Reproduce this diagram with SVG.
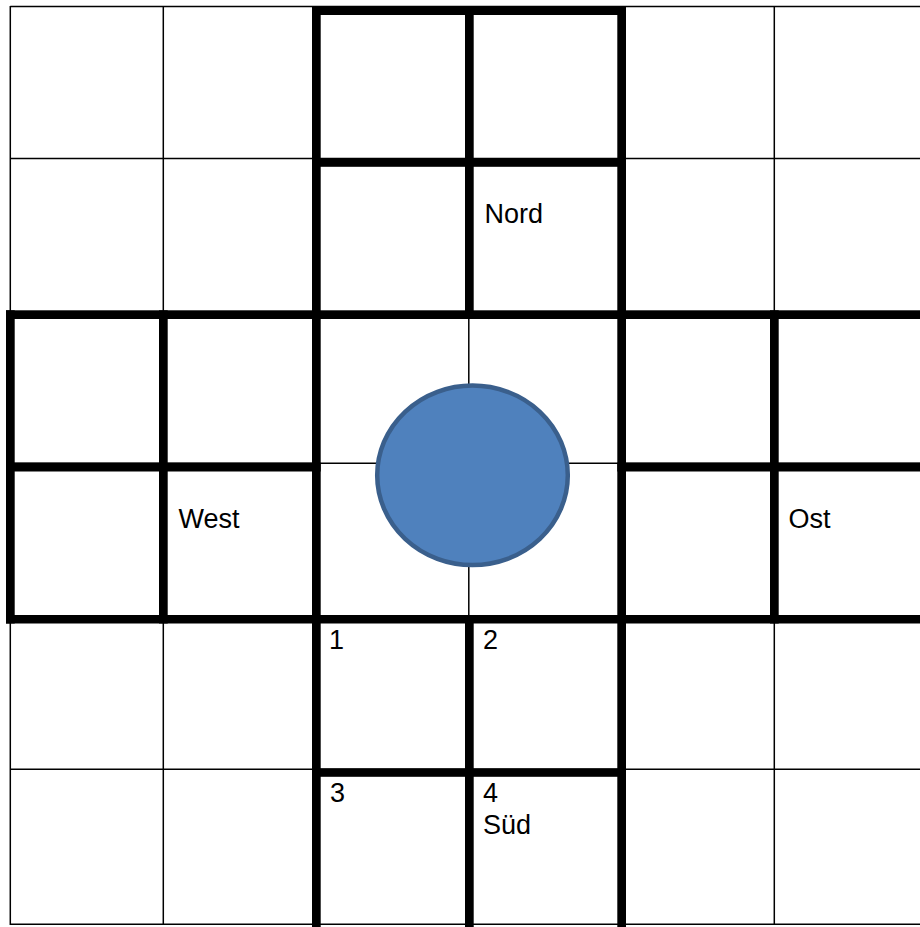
<svg xmlns="http://www.w3.org/2000/svg" width="920" height="927" viewBox="0 0 920 927">
  <style>
    .thin { stroke: #000; stroke-width: 1.5; fill: none; }
    .thick { fill: #000; }
    .lbl { font-family: "Liberation Sans", Arial, sans-serif; font-size: 27px; fill: #000; }
    .disc { fill: #4f81bd; stroke: #3a5f8c; stroke-width: 4.5; }
  </style>
  <rect x="0" y="0" width="920" height="927" fill="#fff"/>
  <g id="connectors">
    <g id="thin-grid">
      <line class="thin" x1="10.3" y1="6.5" x2="920" y2="6.5"/>
      <line class="thin" x1="10.3" y1="158.6" x2="920" y2="158.6"/>
      <line class="thin" x1="10.3" y1="463.3" x2="920" y2="463.3"/>
      <line class="thin" x1="10.3" y1="769.3" x2="920" y2="769.3"/>
      <line class="thin" x1="10.3" y1="924.3" x2="920" y2="924.3"/>
      <line class="thin" x1="10.3" y1="6" x2="10.3" y2="925"/>
      <line class="thin" x1="163.3" y1="6" x2="163.3" y2="925"/>
      <line class="thin" x1="468.8" y1="6" x2="468.8" y2="925"/>
      <line class="thin" x1="774.3" y1="6" x2="774.3" y2="925"/>
    </g>
    <g id="thick-borders">
      <rect class="thick" x="312" y="6.3" width="314" height="8.7"/>
      <rect class="thick" x="312" y="158.3" width="314" height="8.5"/>
      <rect class="thick" x="6" y="310.3" width="914" height="8.7"/>
      <rect class="thick" x="6" y="462.7" width="314.7" height="8.8"/>
      <rect class="thick" x="617.3" y="462.7" width="302.7" height="8.8"/>
      <rect class="thick" x="6" y="615" width="914" height="8.5"/>
      <rect class="thick" x="312" y="768.3" width="314" height="8.5"/>
      <rect class="thick" x="6" y="310.3" width="8.7" height="313.2"/>
      <rect class="thick" x="159" y="310.3" width="8.7" height="313.2"/>
      <rect class="thick" x="770" y="310.3" width="8.7" height="313.2"/>
      <rect class="thick" x="312" y="6.3" width="8.7" height="920.7"/>
      <rect class="thick" x="465" y="6.3" width="8.7" height="312.7"/>
      <rect class="thick" x="465" y="615" width="8.7" height="312"/>
      <rect class="thick" x="617.3" y="6.3" width="8.7" height="920.7"/>
    </g>
  </g>
  <g id="disc">
    <ellipse class="disc" cx="472.5" cy="475.3" rx="95.3" ry="89.8"/>
  </g>
  <g id="label-nord"><text class="lbl" x="484.5" y="223.3">Nord</text></g>
  <g id="label-west"><text class="lbl" x="178.5" y="528.3">West</text></g>
  <g id="label-ost"><text class="lbl" x="788.5" y="528.3">Ost</text></g>
  <g id="label-1"><text class="lbl" x="329" y="648.5">1</text></g>
  <g id="label-2"><text class="lbl" x="483" y="648.5">2</text></g>
  <g id="label-3"><text class="lbl" x="330" y="802.3">3</text></g>
  <g id="label-4"><text class="lbl" x="483" y="802.3">4</text><text class="lbl" x="483" y="834.3">Süd</text></g>
</svg>
